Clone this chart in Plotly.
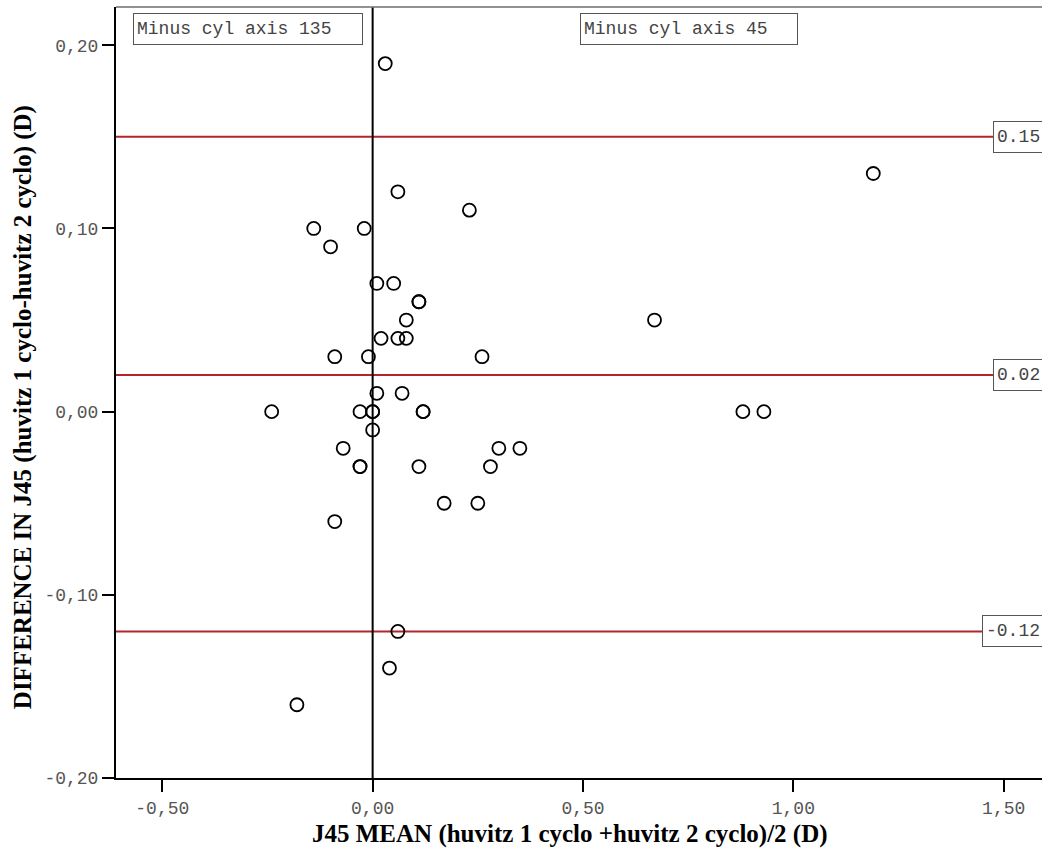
import plotly.graph_objects as go

# J45 mean of the two measurements and their difference (D)
j45_mean = [0.03, 0.06, 0.23, 1.19, -0.14, -0.02, -0.10, 0.01, 0.05, 0.11, 0.11,
            0.08, 0.02, 0.06, 0.08, -0.09, -0.01, 0.26, 0.67, 0.01, 0.07,
            -0.24, -0.03, 0.00, 0.00, 0.12, 0.12, 0.88, 0.93, 0.00, -0.07,
            0.30, 0.35, -0.03, -0.03, 0.11, 0.28, 0.17, 0.25, -0.09, 0.06,
            0.04, -0.18]
j45_diff = [0.19, 0.12, 0.11, 0.13, 0.10, 0.10, 0.09, 0.07, 0.07, 0.06, 0.06,
            0.05, 0.04, 0.04, 0.04, 0.03, 0.03, 0.03, 0.05, 0.01, 0.01,
            0.00, 0.00, 0.00, 0.00, 0.00, 0.00, 0.00, 0.00, -0.01, -0.02,
            -0.02, -0.02, -0.03, -0.03, -0.03, -0.03, -0.05, -0.05, -0.06, -0.12,
            -0.14, -0.16]

# Upper limit, mean difference, lower limit
limits = [0.15, 0.02, -0.12]
limit_labels = ["0.15", "0.02", "-0.12"]

x_ticks = [-0.5, 0.0, 0.5, 1.0, 1.5]
x_tick_text = ["-0,50", "0,00", "0,50", "1,00", "1,50"]
y_ticks = [-0.2, -0.1, 0.0, 0.1, 0.2]
y_tick_text = ["-0,20", "-0,10", "0,00", "0,10", "0,20"]

region_labels = ["Minus cyl axis 135", "Minus cyl axis 45"]
x_title = "J45 MEAN (huvitz 1 cyclo +huvitz 2 cyclo)/2 (D)"
y_title = "DIFFERENCE IN J45 (huvitz 1 cyclo-huvitz 2 cyclo) (D)"

MONO = "Liberation Mono, Courier New, monospace"
SERIF = "Liberation Serif, Times New Roman, serif"
RED = "#b0272b"

fig = go.Figure()

fig.add_trace(go.Scatter(
    x=j45_mean, y=j45_diff, mode="markers",
    marker=dict(symbol="circle-open", size=13, color="black",
                line=dict(width=1.8, color="black")),
    showlegend=False, hoverinfo="x+y",
))

# Limit lines
for v in limits:
    fig.add_shape(type="line", xref="paper", yref="y", x0=0, x1=1, y0=v, y1=v,
                  line=dict(color=RED, width=2), layer="below")

# Zero reference line on x
fig.add_shape(type="line", xref="x", yref="paper", x0=0, x1=0, y0=0, y1=1,
              line=dict(color="black", width=2), layer="below")

# Top frame
fig.add_shape(type="line", xref="paper", yref="paper", x0=0, x1=1, y0=1, y1=1,
              line=dict(color="#6e6e6e", width=1.5))

# Labels for the limit lines, right-aligned at the plot edge
for v, t in zip(limits, limit_labels):
    fig.add_annotation(xref="paper", yref="y", x=1.002, y=v, xanchor="right",
                       yanchor="middle", text=t, showarrow=False, align="left",
                       font=dict(family=MONO, size=18, color="#444444"),
                       bgcolor="white", bordercolor="#555555", borderwidth=1,
                       borderpad=3, height=24)

# Region labels
for xp, t, w in zip([0.0184, 0.501], region_labels, [222, 210]):
    fig.add_annotation(xref="paper", yref="paper", x=xp, y=0.992, xanchor="left",
                       yanchor="top", text=t, showarrow=False, align="left",
                       font=dict(family=MONO, size=18, color="#444444"),
                       bgcolor="white", bordercolor="#555555", borderwidth=1,
                       borderpad=3, width=w, height=24)

# Axis titles
fig.add_annotation(xref="paper", yref="paper", x=0.490, y=-0.0726,
                   xanchor="center", yanchor="middle", showarrow=False,
                   text="<b>" + x_title + "</b>",
                   font=dict(family=SERIF, size=25, color="black"))
fig.add_annotation(xref="paper", yref="paper", x=-0.1004, y=0.481,
                   xanchor="center", yanchor="middle", showarrow=False,
                   textangle=-90, text="<b>" + y_title + "</b>",
                   font=dict(family=SERIF, size=25, color="black"))

fig.update_layout(
    width=1042, height=855,
    margin=dict(l=116, r=0, t=7, b=77),
    plot_bgcolor="white", paper_bgcolor="white",
    showlegend=False,
    xaxis=dict(
        range=[-0.610, 1.591], tickvals=x_ticks, ticktext=x_tick_text,
        ticks="outside", ticklen=12, tickwidth=2, tickcolor="black",
        showline=True, linecolor="black", linewidth=2, mirror=False,
        showgrid=False, zeroline=False,
        tickfont=dict(family=MONO, size=18, color="#555555"),
    ),
    yaxis=dict(
        range=[-0.20, 0.2209], tickvals=y_ticks, ticktext=y_tick_text,
        ticks="outside", ticklen=12, tickwidth=2, tickcolor="black",
        showline=True, linecolor="black", linewidth=2, mirror=False,
        showgrid=False, zeroline=False,
        tickfont=dict(family=MONO, size=18, color="#555555"),
    ),
)

fig.write_html("out.html")
